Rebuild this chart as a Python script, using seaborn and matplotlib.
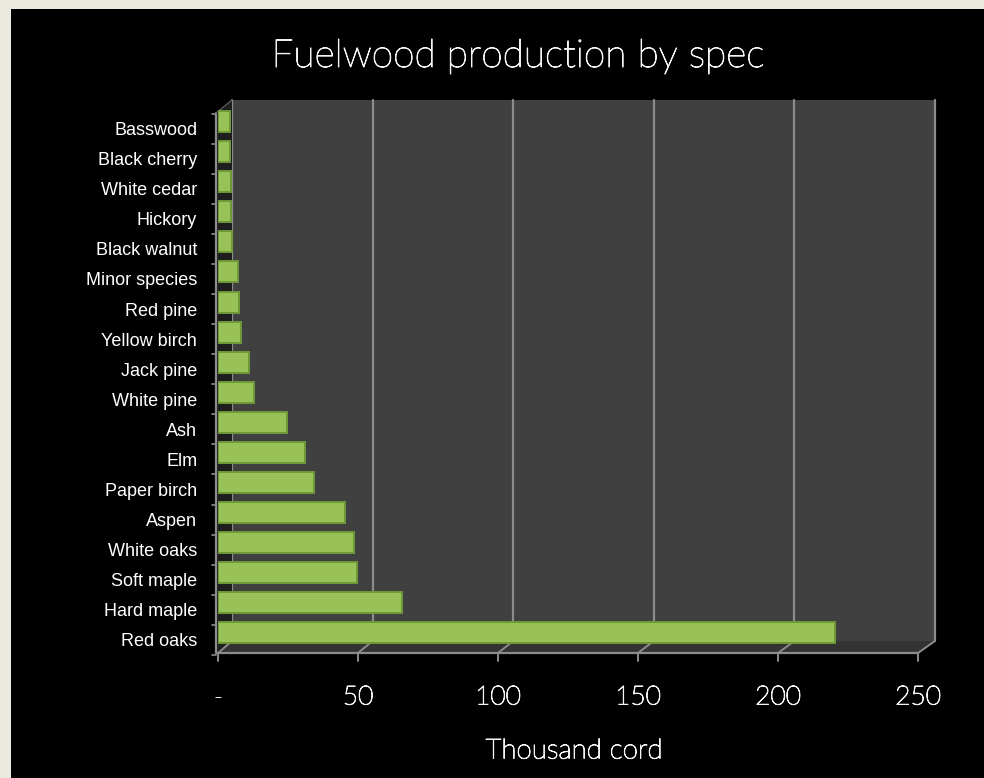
import matplotlib
matplotlib.use("Agg")
import matplotlib.pyplot as plt
import matplotlib.transforms as mtransforms
import matplotlib.patheffects as pe
from matplotlib.patches import Polygon, Rectangle
from matplotlib.lines import Line2D
import pandas as pd
import seaborn as sns

# data (thousand cords)
species = ["Basswood", "Black cherry", "White cedar", "Hickory", "Black walnut",
           "Minor species", "Red pine", "Yellow birch", "Jack pine", "White pine",
           "Ash", "Elm", "Paper birch", "Aspen", "White oaks", "Soft maple",
           "Hard maple", "Red oaks"]
cords = [4.2, 4.4, 4.6, 4.6, 5.1, 7.0, 7.6, 8.2, 11.2, 12.8,
         24.5, 31.1, 34.4, 45.4, 48.6, 49.6, 65.7, 220.4]
xticks = [0, 50, 100, 150, 200, 250]
xtick_labels = ["-", "50", "100", "150", "200", "250"]

df = pd.DataFrame({"species": species, "cords": cords})

W, H = 984, 778
thin = ["Lato", "DejaVu Sans"]
grid_col = "#8c8c8c"
txt_col = "#f4f4f4"
# light font looks washed out at this size, give it a hairline of extra weight
bolder = [pe.withStroke(linewidth=0.7, foreground=txt_col)]


def fx(x):
    return x / W


def fy(y):
    return 1 - y / H


def poly(pts, **kw):
    fig.add_artist(Polygon([(fx(x), fy(y)) for x, y in pts], closed=True,
                           transform=fig.transFigure, **kw))


def line(x0, y0, x1, y1, **kw):
    fig.add_artist(Line2D([fx(x0), fx(x1)], [fy(y0), fy(y1)],
                          transform=fig.transFigure, **kw))


sns.set_style("dark")
fig = plt.figure(figsize=(W / 100, H / 100), dpi=100, facecolor="#ece9df")

# black slide background
fig.add_artist(Rectangle((fx(11), 0), 1 - fx(11), fy(9), transform=fig.transFigure,
                         facecolor="black", edgecolor="none", zorder=-5))

# back wall with gridlines
wall = fig.add_axes([fx(232), fy(641), 703 / W, 541 / H])
wall.set_zorder(-2)
wall.set_facecolor("#404040")
wall.set_xlim(0, 250)
wall.set_ylim(0, 1)
for v in xticks:
    wall.axvline(v, color=grid_col, lw=1.6, clip_on=False)
wall.set_xticks([])
wall.set_yticks([])
for s in wall.spines.values():
    s.set_visible(False)

# floor and side wall (behind the bars)
poly([(217, 653), (918, 653), (935, 641), (232, 641)], facecolor="#333333",
     edgecolor="none", zorder=-1)
poly([(216, 113), (232, 100), (232, 641), (216, 653)], facecolor="#1e1e1e",
     edgecolor="none", zorder=-1)
line(216, 113, 216, 653, color=grid_col, lw=1.6, zorder=-1)
line(216, 113, 232, 100, color="#555555", lw=1, zorder=-1)
line(217, 653, 918, 653, color=grid_col, lw=1.6, zorder=-1)

# bars
ax = fig.add_axes([fx(218), fy(648), 700 / W, 541.5 / H])
ax.set_facecolor("none")
sns.barplot(data=df, x="cords", y="species", ax=ax, color="#98c157",
            saturation=1, width=0.7, edgecolor="#6f9938", linewidth=1.4, zorder=3)
ax.set_xlim(0, 250)
ax.set_ylim(len(species) - 0.5, -0.5)
for s in ax.spines.values():
    s.set_visible(False)
ax.grid(False)
ax.set_xlabel("")
ax.set_ylabel("")

ax.set_xticks(xticks)
ax.set_xticklabels(xtick_labels, family=thin, fontweight="light",
                   fontsize=19, color=txt_col, path_effects=bolder)
ax.tick_params(axis="x", length=0, pad=27)
ax.set_yticks(range(len(species)))
ax.set_yticklabels(species, family=["Liberation Sans", "DejaVu Sans"],
                   fontsize=13, color="white")
ax.tick_params(axis="y", length=0, pad=15)
shift = mtransforms.ScaledTranslation(0, -0.07, fig.dpi_scale_trans)
for lab in ax.get_yticklabels():
    lab.set_transform(lab.get_transform() + shift)

# floor gridlines, front ticks and side ticks from the axes scales
to_px = ax.transData
back_px = wall.transData
for v in xticks:
    xf = to_px.transform((v, 0))[0]
    xb = back_px.transform((v, 0))[0]
    line(xf, 653, xb, 641, color=grid_col, lw=1.4, zorder=-1)
    line(xf, 653, xf, 661, color=grid_col, lw=1.4)
for k in range(len(species) + 1):
    yb = H - to_px.transform((0, k - 0.5))[1] + 7
    line(212, yb, 216, yb, color=grid_col, lw=1.2)

fig.text(fx(518), fy(56), "Fuelwood production by spec", ha="center", va="center",
         fontsize=28, color=txt_col, family=thin, fontweight="light",
         path_effects=bolder)
fig.text(fx(574), fy(751), "Thousand cord", ha="center", va="center",
         fontsize=20, color=txt_col, family=thin, fontweight="light",
         path_effects=bolder)

fig.savefig("out.png", dpi=100, facecolor=fig.get_facecolor())
